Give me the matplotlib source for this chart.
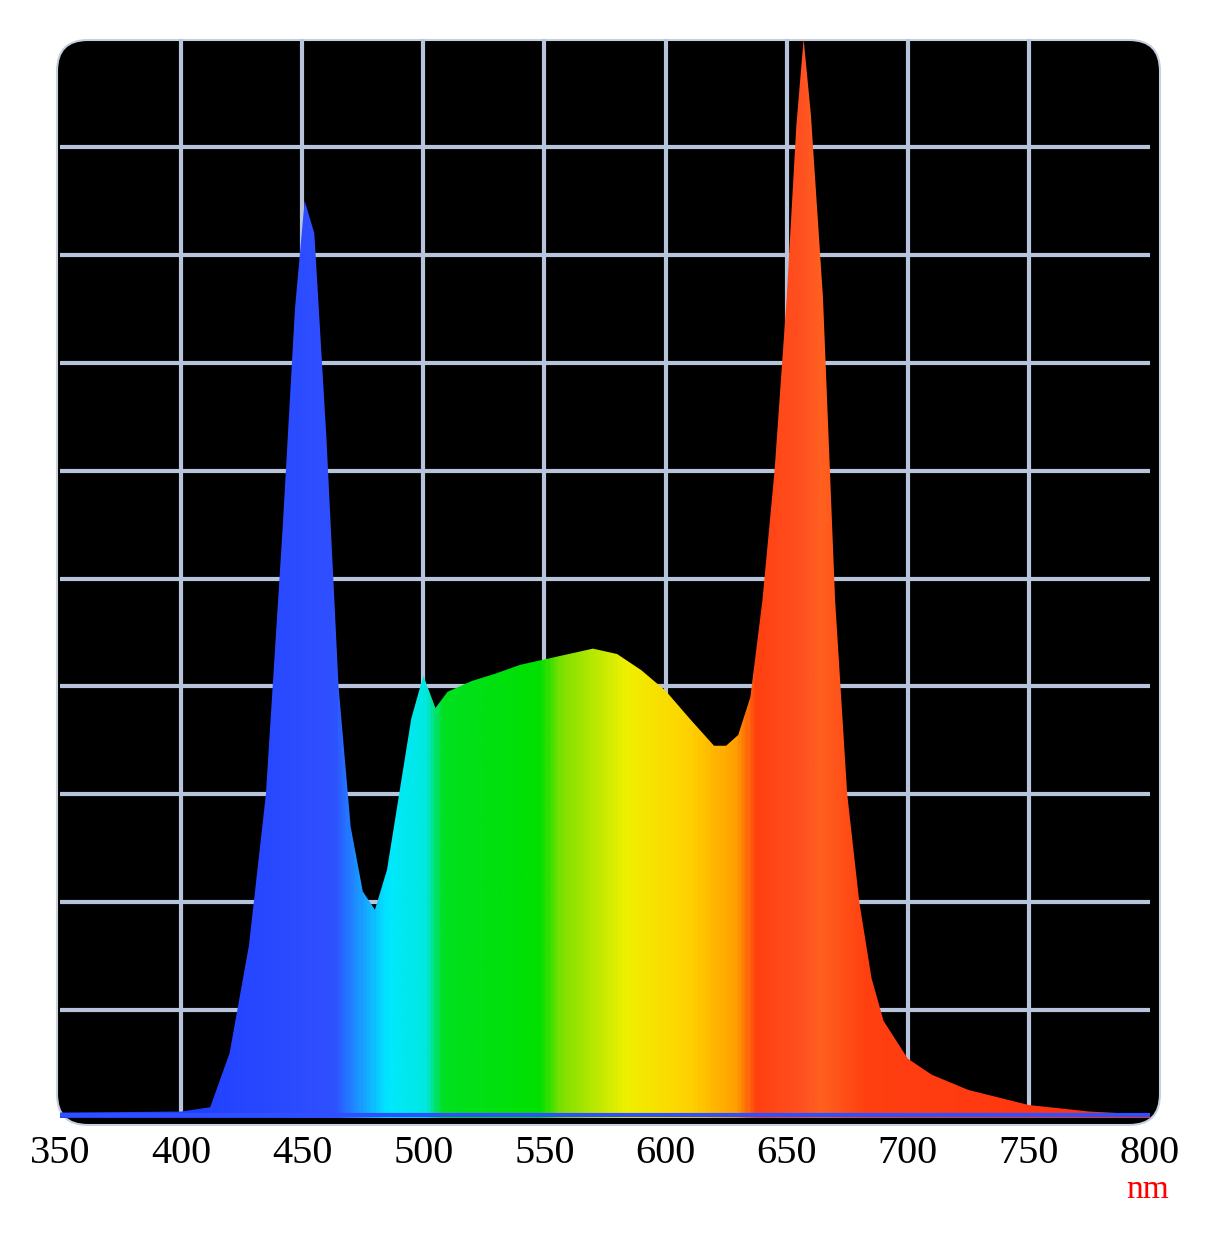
import numpy as np
import matplotlib.pyplot as plt
from matplotlib.colors import LinearSegmentedColormap
from matplotlib.patches import FancyBboxPatch, Polygon

# spectrum (relative units, 10 grid rows)
wl = [350, 400, 412, 420, 428, 435, 442, 447, 451, 455, 460, 465, 470, 475, 480, 485,
      490, 495, 500, 505, 510, 520, 530, 540, 550, 560, 570, 580, 590, 600, 610, 620,
      625, 630, 635, 640, 645, 650, 654, 657, 660, 665, 670, 675, 680, 685, 690, 700,
      710, 725, 750, 775, 800]
val = [0.05, 0.06, 0.1, 0.6, 1.6, 3.0, 5.5, 7.5, 8.5, 8.2, 6.3, 4.0, 2.7, 2.1, 1.93, 2.3,
       3.0, 3.7, 4.1, 3.8, 3.95, 4.05, 4.12, 4.2, 4.25, 4.3, 4.35, 4.3, 4.15, 3.96, 3.7, 3.45,
       3.45, 3.55, 3.9, 4.8, 6.0, 7.6, 9.2, 10.0, 9.3, 7.6, 4.8, 3.0, 2.0, 1.3, 0.9, 0.55,
       0.4, 0.26, 0.12, 0.06, 0.03]
ticks = [350, 400, 450, 500, 550, 600, 650, 700, 750, 800]

spec_colors = [(0.0, '#2040ff'), (0.12, '#2040ff'), (0.25, '#3050ff'), (0.30, '#00e8ff'),
               (0.335, '#00e8e0'), (0.35, '#00e020'), (0.44, '#00e000'), (0.46, '#80e000'),
               (0.52, '#f0f000'), (0.58, '#ffd000'), (0.62, '#ffa000'), (0.64, '#ff4010'),
               (0.68, '#ff5020'), (0.70, '#ff6020'), (0.74, '#ff4010'), (1.0, '#ff3010')]
cmap = LinearSegmentedColormap.from_list('spec', spec_colors)

fig = plt.figure(figsize=(12.28, 12.39), dpi=100)
fig.patch.set_facecolor('white')

# black rounded panel, behind the axes
panel = FancyBboxPatch((57 / 1228, 1 - 1125 / 1239), 1103 / 1228, 1085 / 1239,
                       boxstyle='round,pad=0,rounding_size=0.025',
                       transform=fig.transFigure, facecolor='black', edgecolor='#c8d0e0',
                       lw=1.5, zorder=-10)
fig.patches.append(panel)

ax = fig.add_axes([60 / 1228, 121 / 1239, 1090 / 1228, 1079 / 1239])
ax.set_facecolor('none')
ax.set_xlim(350, 800)
ax.set_ylim(0, 10)

for x in ticks[1:-1]:
    ax.axvline(x, color='#b8c4dc', lw=3, zorder=1)
for y in range(1, 10):
    ax.axhline(y, color='#b8c4dc', lw=3, zorder=1)

# gradient clipped to spectrum shape
grad = np.linspace(0, 1, 600).reshape(1, -1)
im = ax.imshow(grad, extent=[350, 800, 0, 10], aspect='auto', cmap=cmap, zorder=2)
poly = Polygon(list(zip(wl, val)) + [(800, 0), (350, 0)], closed=True,
               transform=ax.transData, facecolor='none', edgecolor='none')
ax.add_patch(poly)
im.set_clip_path(poly)
ax.plot([350, 800], [0.03, 0.03], color='#3050ff', lw=3, zorder=3)

for s in ax.spines.values():
    s.set_visible(False)
ax.set_yticks([])
ax.set_xticks(ticks)
ax.set_xticklabels([str(t) for t in ticks], fontfamily='Liberation Serif', fontsize=29)
ax.tick_params(axis='x', length=0, pad=12)
fig.text(1148 / 1228, 1 - 1190 / 1239, 'nm', color='red', fontfamily='Liberation Serif',
         fontsize=24, ha='center', va='center')

fig.savefig('out.png', dpi=100)
